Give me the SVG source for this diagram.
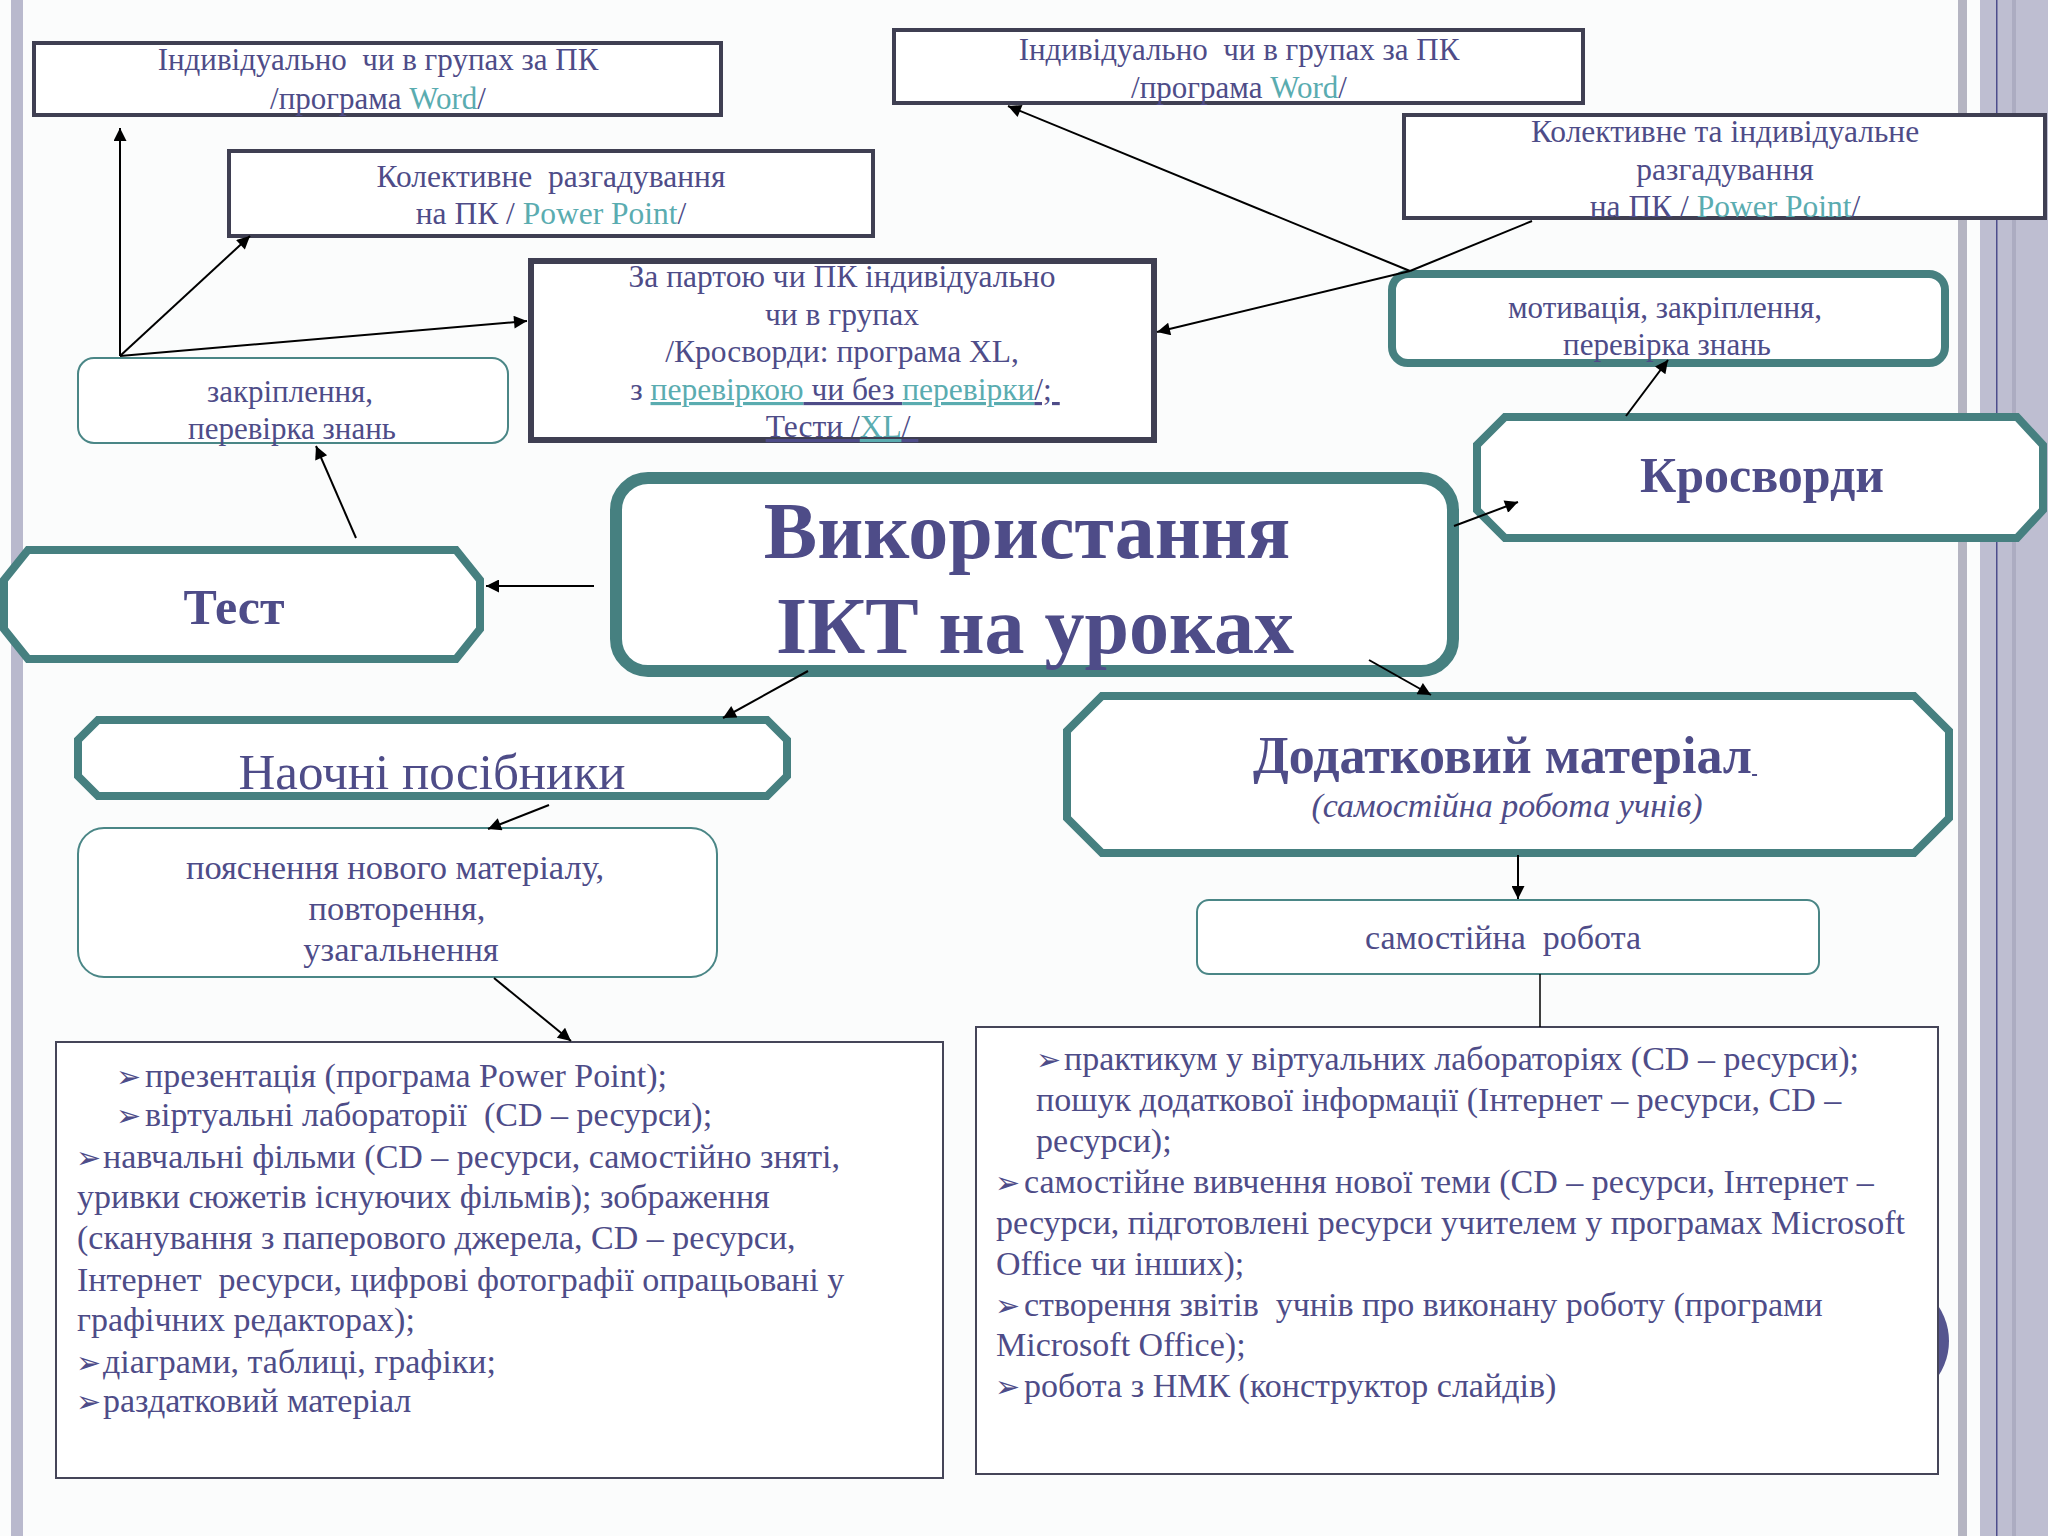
<svg xmlns="http://www.w3.org/2000/svg" width="2048" height="1536" viewBox="0 0 2048 1536">
<style>
.t{font-family:"Liberation Serif","Times New Roman",serif;fill:#4e4c88;text-anchor:middle}
.b{font-weight:bold}
.l{text-anchor:start}
.lk{fill:#5aacb0}
.u{text-decoration:underline}
.dk{fill:#fff;stroke:#3f3f52;stroke-width:4}
.tealthin{fill:#fff;stroke:#4a8686;stroke-width:2}
.tealthick{fill:#fff;stroke:#468080;stroke-width:8}
.plain{fill:#fff;stroke:#454558;stroke-width:2}
.bul{font-family:"DejaVu Sans",sans-serif;font-size:30px}
.c{stroke:#000;stroke-width:2;fill:none}
</style>
<defs>
<marker id="ah" viewBox="0 0 10 10" refX="10" refY="5" markerWidth="17" markerHeight="13" markerUnits="userSpaceOnUse" orient="auto">
<path d="M0,0 L10,5 L0,10 z" fill="#000"/>
</marker>
</defs>
<rect x="0" y="0" width="2048" height="1536" fill="#fbfcfc"/>
<g id="decor">
<rect x="11" y="0" width="12" height="1536" fill="#b9b9cd"/>
<rect x="1958" y="0" width="9" height="1536" fill="#b5b5c2"/>
<rect x="1980" y="0" width="68" height="1536" fill="#bebed1"/>
<rect x="2012" y="0" width="4" height="1536" fill="#acacc1"/>
<rect x="1996" y="0" width="1.5" height="1536" fill="#4d4d8c"/>
<circle cx="1886" cy="1341" r="63" fill="#55558f"/>
</g>

<g id="n-word-left">
<rect class="dk" x="34" y="43" width="687" height="72"/>
<text class="t" x="378" y="70" font-size="31" xml:space="preserve">Індивідуально  чи в групах за ПК</text>
<text class="t" x="378" y="109" font-size="31">/програма <tspan class="lk">Word</tspan>/</text>
</g>

<g id="n-pp-left">
<rect class="dk" x="229" y="151" width="644" height="85"/>
<text class="t" x="551" y="187" font-size="31.5" xml:space="preserve">Колективне  разгадування</text>
<text class="t" x="551" y="224" font-size="31.5">на ПК / <tspan class="lk">Power Point</tspan>/</text>
</g>

<g id="n-xl">
<rect class="dk" x="531" y="261" width="623" height="179" style="stroke-width:6"/>
<text class="t" x="842" y="287" font-size="31.5">За партою чи ПК індивідуально</text>
<text class="t" x="842" y="325" font-size="31.5">чи в групах</text>
<text class="t" x="842" y="362" font-size="31.5">/Кросворди: програма XL,</text>
<text class="t" x="845" y="400" font-size="31.5" xml:space="preserve">з <tspan class="lk u">перевіркою</tspan><tspan class="u"> чи без </tspan><tspan class="lk u">перевірки</tspan><tspan class="u">/; </tspan></text>
<text class="t" x="842" y="437" font-size="31.5" xml:space="preserve"><tspan class="u">Тести /</tspan><tspan class="lk u">XL</tspan><tspan class="u">/ </tspan></text>
</g>

<g id="n-word-right">
<rect class="dk" x="894" y="30" width="689" height="73"/>
<text class="t" x="1239" y="60" font-size="31" xml:space="preserve">Індивідуально  чи в групах за ПК</text>
<text class="t" x="1239" y="98" font-size="31">/програма <tspan class="lk">Word</tspan>/</text>
</g>

<g id="n-pp-right">
<rect class="dk" x="1404" y="115" width="641" height="103"/>
<text class="t" x="1725" y="142" font-size="31.5">Колективне та індивідуальне</text>
<text class="t" x="1725" y="180" font-size="31.5">разгадування</text>
<text class="t" x="1725" y="217" font-size="31.5">на ПК / <tspan class="lk">Power Point</tspan>/</text>
</g>

<g id="n-motiv">
<rect class="tealthick" x="1392" y="274" width="553" height="89" rx="16"/>
<text class="t" x="1665" y="318" font-size="31">мотивація, закріплення,</text>
<text class="t" x="1667" y="355" font-size="31">перевірка знань</text>
</g>

<g id="n-zakr">
<rect class="tealthin" x="78" y="358" width="430" height="85" rx="16"/>
<text class="t" x="290" y="402" font-size="31">закріплення,</text>
<text class="t" x="292" y="439" font-size="31">перевірка знань</text>
</g>

<g id="n-center">
<rect x="616" y="478" width="837" height="193" rx="32" fill="#fff" stroke="#468080" stroke-width="12"/>
<text class="t b" x="1027" y="558" font-size="80" fill="#53518f">Використання</text>
<text class="t b" x="1035" y="653" font-size="80" fill="#53518f">ІКТ на уроках</text>
</g>

<g id="n-test">
<polygon class="tealthick" points="28,550 456,550 480,580 480,629 456,659 28,659 4,629 4,580"/>
<text class="t b" x="234" y="624" font-size="50">Тест</text>
</g>

<g id="n-naochni">
<polygon class="tealthick" points="98,720 767,720 787,740 787,776 767,796 98,796 78,776 78,740"/>
<text class="t" x="432" y="789" font-size="51">Наочні посібники</text>
</g>

<g id="n-poyasn">
<rect class="tealthin" x="78" y="828" width="639" height="149" rx="26"/>
<text class="t" x="395" y="879" font-size="34.5">пояснення нового матеріалу,</text>
<text class="t" x="397" y="920" font-size="34.5">повторення,</text>
<text class="t" x="401" y="961" font-size="34.5">узагальнення</text>
</g>

<g id="n-krosv">
<polygon class="tealthick" points="1505,417 2017,417 2043,445 2043,510 2017,538 1505,538 1477,510 1477,445"/>
<text class="t b" x="1762" y="492" font-size="50">Кросворди</text>
</g>

<g id="n-dodat">
<polygon class="tealthick" points="1102,696 1914,696 1949,731 1949,818 1914,853 1102,853 1067,818 1067,731"/>
<text class="t b" x="1505" y="773" font-size="52" xml:space="preserve">Додатковий матеріал<tspan class="u" style="font-weight:normal;font-size:20px"> </tspan></text>
<text class="t" x="1507" y="817" font-size="34" font-style="italic">(самостійна робота учнів)</text>
</g>

<g id="n-samost">
<rect class="tealthin" x="1197" y="900" width="622" height="74" rx="12"/>
<text class="t" x="1503" y="949" font-size="34" xml:space="preserve">самостійна  робота</text>
</g>

<g id="n-list-left">
<rect class="plain" x="56" y="1042" width="887" height="436"/>
<text class="t l" font-size="34" xml:space="preserve"><tspan x="116" y="1087" class="bul">➢</tspan><tspan x="145" y="1087">презентація (програма Power Point);</tspan><tspan x="116" y="1126" class="bul">➢</tspan><tspan x="145" y="1126">віртуальні лабораторії  (CD – ресурси);</tspan><tspan x="76" y="1168" class="bul">➢</tspan><tspan x="103" y="1168">навчальні фільми (CD – ресурси, самостійно зняті,</tspan><tspan x="77" y="1208">уривки сюжетів існуючих фільмів); зображення</tspan><tspan x="77" y="1249">(сканування з паперового джерела, CD – ресурси,</tspan><tspan x="77" y="1291">Інтернет  ресурси, цифрові фотографії опрацьовані у</tspan><tspan x="77" y="1331">графічних редакторах);</tspan><tspan x="76" y="1373" class="bul">➢</tspan><tspan x="103" y="1373">діаграми, таблиці, графіки;</tspan><tspan x="76" y="1412" class="bul">➢</tspan><tspan x="103" y="1412">раздатковий матеріал</tspan></text>
</g>

<g id="n-list-right">
<rect class="plain" x="976" y="1027" width="962" height="447"/>
<text class="t l" font-size="34" xml:space="preserve"><tspan x="1036" y="1070" class="bul">➢</tspan><tspan x="1064" y="1070">практикум у віртуальних лабораторіях (CD – ресурси);</tspan><tspan x="1036" y="1111">пошук додаткової інформації (Інтернет – ресурси, CD –</tspan><tspan x="1036" y="1152">ресурси);</tspan><tspan x="995" y="1193" class="bul">➢</tspan><tspan x="1024" y="1193">самостійне вивчення нової теми (CD – ресурси, Інтернет –</tspan><tspan x="996" y="1234">ресурси, підготовлені ресурси учителем у програмах Microsoft</tspan><tspan x="996" y="1275">Office чи інших);</tspan><tspan x="995" y="1316" class="bul">➢</tspan><tspan x="1024" y="1316">створення звітів  учнів про виконану роботу (програми</tspan><tspan x="996" y="1356">Microsoft Office);</tspan><tspan x="995" y="1397" class="bul">➢</tspan><tspan x="1024" y="1397">робота з НМК (конструктор слайдів)</tspan></text>
</g>

<g id="connectors">
<line class="c" x1="120" y1="356" x2="120" y2="128" marker-end="url(#ah)"/>
<line class="c" x1="120" y1="356" x2="250" y2="236" marker-end="url(#ah)"/>
<line class="c" x1="120" y1="356" x2="527" y2="321" marker-end="url(#ah)"/>
<line class="c" x1="356" y1="538" x2="316" y2="446" marker-end="url(#ah)"/>
<line class="c" x1="594" y1="586" x2="486" y2="586" marker-end="url(#ah)"/>
<line class="c" x1="808" y1="671" x2="723" y2="718" marker-end="url(#ah)"/>
<line class="c" x1="549" y1="805" x2="488" y2="829" marker-end="url(#ah)"/>
<line class="c" x1="494" y1="978" x2="571" y2="1041" marker-end="url(#ah)"/>
<line class="c" x1="1369" y1="660" x2="1431" y2="695" marker-end="url(#ah)"/>
<line class="c" x1="1454" y1="526" x2="1518" y2="502" marker-end="url(#ah)"/>
<line class="c" x1="1626" y1="416" x2="1668" y2="360" marker-end="url(#ah)"/>
<line class="c" x1="1410" y1="271" x2="1008" y2="106" marker-end="url(#ah)"/>
<line class="c" x1="1532" y1="221" x2="1410" y2="271"/>
<line class="c" x1="1410" y1="271" x2="1157" y2="332" marker-end="url(#ah)"/>
<line class="c" x1="1518" y1="855" x2="1518" y2="899" marker-end="url(#ah)"/>
<line class="c" x1="1540" y1="974" x2="1540" y2="1027" style="stroke-width:1.5"/>
</g>
</svg>
